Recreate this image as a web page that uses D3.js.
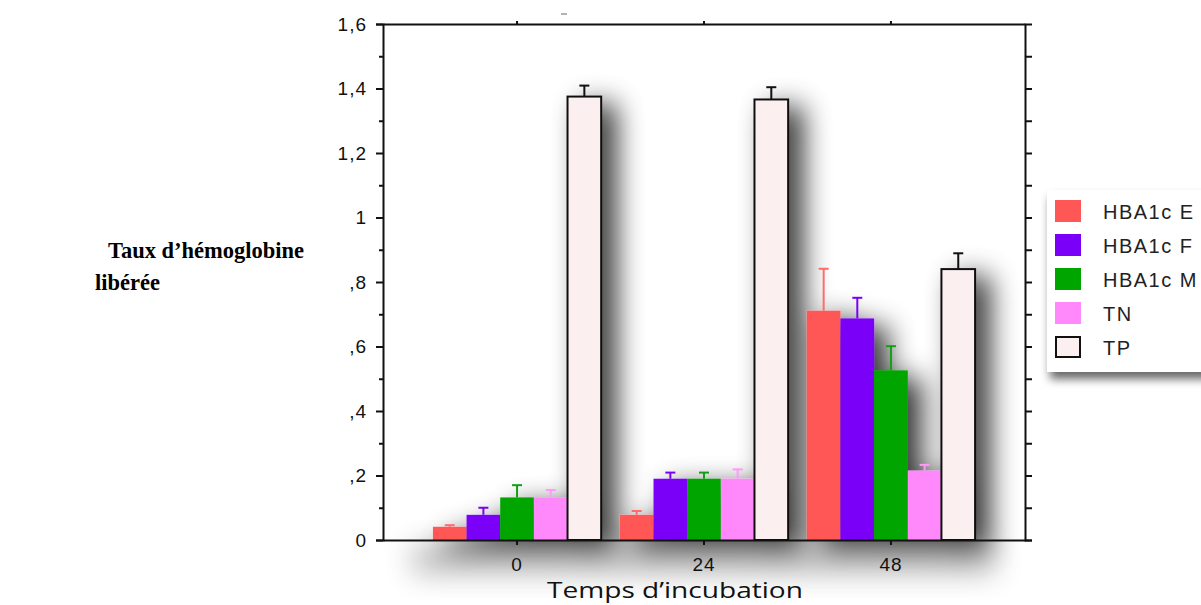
<!DOCTYPE html>
<html>
<head>
<meta charset="utf-8">
<script src="https://cdn.jsdelivr.net/npm/d3@7"></script>
<style>
  body { margin: 0; background: #fff; }
  svg { display: block; }
</style>
</head>
<body>
<svg id="chart" width="1201" height="605"></svg>
<script>
// categories and series
const times = ['0', '24', '48'];
const series = ['HBA1c E', 'HBA1c F', 'HBA1c M', 'TN', 'TP'];
const colors = ['#ff5656', '#7a00f7', '#00a500', '#ff88fa', '#fcefef'];
const errColors = ['#ff6c6c', '#7a00f7', '#139f13', '#ff99fb', '#111'];

// values (one array per series, one entry per time)
const hbaE = [0.041, 0.078, 0.711];
const hbaF = [0.078, 0.190, 0.687];
const hbaM = [0.132, 0.190, 0.526];
const tn = [0.132, 0.190, 0.215];
const tp = [1.375, 1.366, 0.840];

const errE = [0.005, 0.012, 0.130];
const errF = [0.022, 0.019, 0.064];
const errM = [0.038, 0.019, 0.075];
const errTN = [0.023, 0.029, 0.018];
const errTP = [0.034, 0.038, 0.049];

const yTicks = [0, 0.2, 0.4, 0.6, 0.8, 1, 1.2, 1.4, 1.6];
const yTickLabels = ['0', ',2', ',4', ',6', ',8', '1', '1,2', '1,4', '1,6'];

const allValues = [hbaE, hbaF, hbaM, tn, tp];
const allErrors = [errE, errF, errM, errTN, errTP];

const chartData = [];
times.forEach((t, i) => {
  series.forEach((s, j) => {
    chartData.push({ time: t, serie: s, idx: j, value: allValues[j][i], err: allErrors[j][i] });
  });
});

const plotLeft = 383, plotRight = 1025, plotTop = 24, plotBottom = 540;

const svg = d3.select('#chart');
const defs = svg.append('defs');

// soft shadow used behind the bars
const f = defs.append('filter').attr('id', 'shadow')
  .attr('x', '-40%').attr('y', '-20%').attr('width', '180%').attr('height', '140%');
f.append('feGaussianBlur').attr('in', 'SourceAlpha').attr('stdDeviation', 14).attr('result', 'b');
f.append('feOffset').attr('in', 'b').attr('dx', 14).attr('dy', 8).attr('result', 'o');
f.append('feComponentTransfer').attr('in', 'o').attr('result', 's')
  .append('feFuncA').attr('type', 'linear').attr('slope', 0.8);
const fm = f.append('feMerge');
fm.append('feMergeNode').attr('in', 's');
fm.append('feMergeNode').attr('in', 'SourceGraphic');

const lf = defs.append('filter').attr('id', 'legendShadow')
  .attr('x', '-20%').attr('y', '-20%').attr('width', '140%').attr('height', '150%');
lf.append('feGaussianBlur').attr('in', 'SourceAlpha').attr('stdDeviation', 5).attr('result', 'b');
lf.append('feOffset').attr('in', 'b').attr('dx', 3).attr('dy', 7).attr('result', 'o');
lf.append('feComponentTransfer').attr('in', 'o').attr('result', 's')
  .append('feFuncA').attr('type', 'linear').attr('slope', 0.6);
const lm = lf.append('feMerge');
lm.append('feMergeNode').attr('in', 's');
lm.append('feMergeNode').attr('in', 'SourceGraphic');

const bf = defs.append('filter').attr('id', 'blur')
  .attr('x', '-30%').attr('y', '-100%').attr('width', '160%').attr('height', '300%');
bf.append('feGaussianBlur').attr('stdDeviation', 15);

// scales
const x0 = d3.scaleBand()
  .domain(times)
  .range([plotLeft, plotRight])
  .paddingInner(0.1)
  .paddingOuter(0.267);

const x1 = d3.scaleBand()
  .domain(series)
  .range([0, x0.bandwidth()]);

const y = d3.scaleLinear()
  .domain([0, 1.6])
  .range([plotBottom, plotTop]);

// shadow under the x axis
svg.append('rect')
  .attr('x', plotLeft + 30).attr('y', plotBottom + 6)
  .attr('width', plotRight - plotLeft - 60).attr('height', 26)
  .attr('fill', '#000').attr('opacity', 0.3)
  .attr('filter', 'url(#blur)');

// bars
const bars = svg.append('g').attr('filter', 'url(#shadow)');
bars.selectAll('rect')
  .data(chartData)
  .enter()
  .append('rect')
  .attr('x', d => x0(d.time) + x1(d.serie))
  .attr('y', d => y(d.value))
  .attr('width', x1.bandwidth())
  .attr('height', d => y(0) - y(d.value))
  .style('fill', d => colors[d.idx])
  .attr('stroke', d => d.serie === 'TP' ? '#111' : 'none')
  .attr('stroke-width', 2);

// error bars, upper half only
const errs = svg.append('g');
const ex = d => x0(d.time) + x1(d.serie) + x1.bandwidth() / 2;
errs.selectAll('line.v')
  .data(chartData)
  .enter()
  .append('line')
  .attr('class', 'v')
  .attr('x1', ex).attr('x2', ex)
  .attr('y1', d => y(d.value)).attr('y2', d => y(d.value + d.err))
  .attr('stroke', d => errColors[d.idx])
  .attr('stroke-width', 2);
errs.selectAll('line.c')
  .data(chartData)
  .enter()
  .append('line')
  .attr('class', 'c')
  .attr('x1', d => ex(d) - 5).attr('x2', d => ex(d) + 5)
  .attr('y1', d => y(d.value + d.err)).attr('y2', d => y(d.value + d.err))
  .attr('stroke', d => errColors[d.idx])
  .attr('stroke-width', 2);

// axes
const fontAxis = '"Liberation Sans", Arial, sans-serif';

const yAxis = svg.append('g')
  .attr('transform', `translate(${plotLeft},0)`)
  .call(d3.axisLeft(y).tickValues(yTicks).tickSize(7).tickPadding(9)
    .tickFormat((d, i) => yTickLabels[i]));
yAxis.selectAll('.tick text')
  .style('font-family', fontAxis).style('font-size', '19px')
  .style('letter-spacing', '1px').attr('fill', '#111');

// minor ticks left
svg.append('g')
  .attr('transform', `translate(${plotLeft},0)`)
  .call(d3.axisLeft(y).tickValues(d3.range(0.1, 1.6, 0.2)).tickSize(4).tickFormat(''))
  .select('.domain').remove();

// right axis, ticks every 0.1
svg.append('g')
  .attr('transform', `translate(${plotRight},0)`)
  .call(d3.axisRight(y).tickValues(d3.range(0, 16).map(k => k / 10)).tickSize(7).tickFormat(''));

const xAxis = svg.append('g')
  .attr('transform', `translate(0,${plotBottom})`)
  .call(d3.axisBottom(x0).tickSize(5).tickPadding(13).tickSizeOuter(0));
xAxis.selectAll('.tick text')
  .style('font-family', fontAxis).style('font-size', '19px')
  .style('letter-spacing', '1px').attr('fill', '#111');

svg.append('g')
  .attr('transform', `translate(0,${plotTop})`)
  .call(d3.axisTop(x0).tickSize(3).tickFormat('').tickSizeOuter(0));

svg.selectAll('.domain').attr('stroke', '#111').attr('stroke-width', 2);
svg.selectAll('.tick line').attr('stroke', '#111').attr('stroke-width', 2);

// axis titles
svg.append('text')
  .attr('x', 547).attr('y', 598)
  .attr('textLength', 256).attr('lengthAdjust', 'spacingAndGlyphs')
  .style('font-family', '"Open Sans", sans-serif').style('font-size', '22px')
  .attr('fill', '#111')
  .text('Temps d\u2019incubation');

const yTitle = svg.append('text')
  .style('font-family', '"Liberation Serif", "Times New Roman", serif')
  .style('font-size', '22.5px').style('font-weight', 'bold').attr('fill', '#000');
yTitle.append('tspan').attr('x', 108).attr('y', 258).text('Taux d\u2019hémoglobine');
yTitle.append('tspan').attr('x', 95).attr('y', 290).text('libérée');

// stray mark at the top
svg.append('line')
  .attr('x1', 561).attr('x2', 567).attr('y1', 14).attr('y2', 14)
  .attr('stroke', '#999').attr('stroke-width', 1.5);

// legend
const legend = svg.append('g').attr('transform', 'translate(1047,190)');
legend.append('rect')
  .attr('width', 170).attr('height', 182)
  .attr('fill', '#fff')
  .attr('filter', 'url(#legendShadow)');
const items = legend.selectAll('g.item')
  .data(series)
  .enter()
  .append('g')
  .attr('class', 'item')
  .attr('transform', (d, i) => `translate(8,${10 + i * 34})`);
items.append('rect')
  .attr('x', (d, i) => i === 4 ? 1 : 0).attr('y', (d, i) => i === 4 ? 1 : 0)
  .attr('width', (d, i) => i === 4 ? 24 : 26).attr('height', (d, i) => i === 4 ? 20 : 22)
  .style('fill', (d, i) => colors[i])
  .attr('stroke', (d, i) => i === 4 ? '#111' : 'none')
  .attr('stroke-width', 2);
items.append('text')
  .attr('x', 48).attr('y', 19)
  .style('font-family', fontAxis).style('font-size', '20px')
  .style('letter-spacing', '1.5px')
  .attr('fill', '#222')
  .text(d => d);
</script>
</body>
</html>
